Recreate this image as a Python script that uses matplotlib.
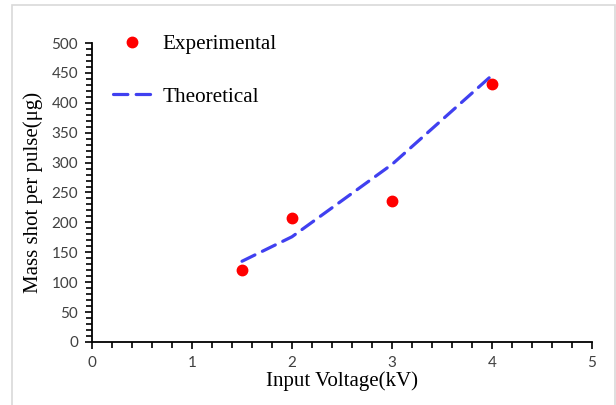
import matplotlib
matplotlib.use("Agg")
import matplotlib.pyplot as plt
from matplotlib.patches import Rectangle
from matplotlib.ticker import MultipleLocator

# data
voltage_exp = [1.5, 2.0, 3.0, 4.0]
mass_exp = [120, 207, 235, 432]
voltage_theo = [1.5, 2.0, 3.0, 4.0]
mass_theo = [135, 176, 297, 446]

fig = plt.figure(figsize=(6.16, 4.05), dpi=100)
ax = fig.add_axes([0.1494, 0.1556, 0.8116, 0.7382])

# light gray frame around the chart area
fig.patches.append(Rectangle((12 / 616, -0.05), 603 / 616, 1.05 - 5 / 405,
                             transform=fig.transFigure, fill=False,
                             edgecolor="#d9d9d9", linewidth=1.2))

ax.plot(voltage_exp, mass_exp, "o", color="#ff0000", markersize=7.5,
        label="Experimental", zorder=3)
ax.plot(voltage_theo, mass_theo, color="#4040f0", linewidth=2.3,
        dashes=(4.5, 2.6), dash_capstyle="round", label="Theoretical")

ax.set_xlim(0, 5)
ax.set_ylim(0, 500)
ax.xaxis.set_major_locator(MultipleLocator(1))
ax.xaxis.set_minor_locator(MultipleLocator(0.2))
ax.yaxis.set_major_locator(MultipleLocator(50))
ax.yaxis.set_minor_locator(MultipleLocator(10))

for s in ["top", "right"]:
    ax.spines[s].set_visible(False)
for s in ["left", "bottom"]:
    ax.spines[s].set_linewidth(1.3)
ax.tick_params(which="both", direction="out", width=1.2, colors="black",
               labelcolor="#404040", labelsize=11)
ax.tick_params(which="major", length=5, pad=5)
ax.tick_params(which="minor", length=4)
for lab in ax.get_xticklabels() + ax.get_yticklabels():
    lab.set_family("Lato")

ax.set_xlabel("Input Voltage(kV)", family="Liberation Serif", fontsize=15,
              labelpad=1)
ax.set_ylabel("Mass shot per pulse(\u03bcg)", family="Liberation Serif",
              fontsize=15, labelpad=6)

ax.legend(loc="upper left", bbox_to_anchor=(102 / 616, 1 - 24 / 405),
          bbox_transform=fig.transFigure, frameon=False, borderpad=0,
          prop={"family": "Liberation Serif", "size": 15.2},
          labelspacing=1.55, handlelength=1.8, handletextpad=0.55)

fig.savefig("out.png", dpi=100, facecolor="white")
